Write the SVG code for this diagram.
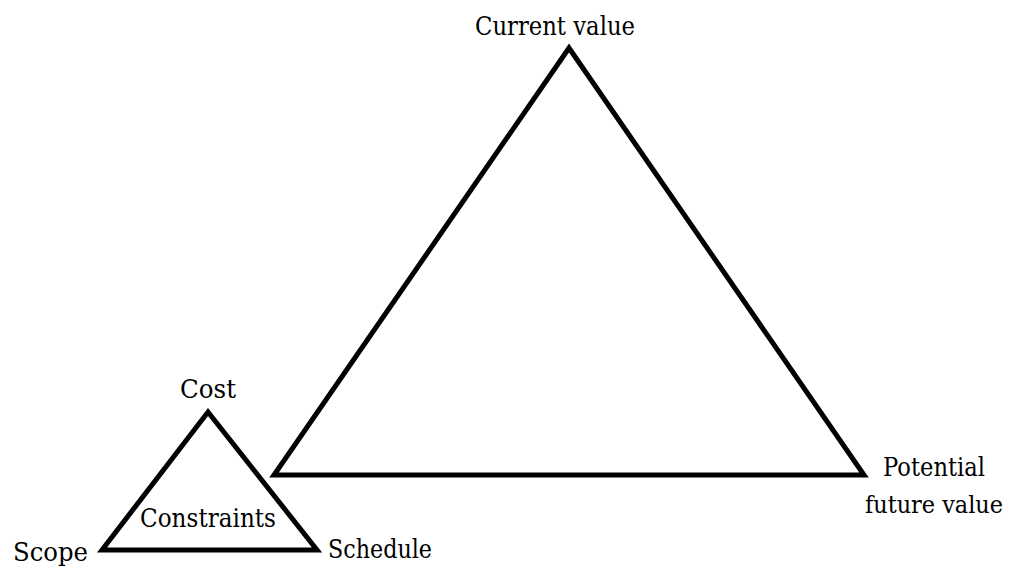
<svg xmlns="http://www.w3.org/2000/svg" width="1010" height="568" viewBox="0 0 1010 568">
<style>
.tri{fill:none;stroke:#000;stroke-width:5;stroke-linejoin:miter}
.mid{text-anchor:middle}
</style>
<rect width="1010" height="568" fill="#fff"/>
<g id="value-triangle">
<polygon class="tri" points="569,48 864,475 274,475"/>
</g>
<g id="constraints-triangle">
<polygon class="tri" points="208,412 317,550 102,550"/>
</g>
<g id="connectors"></g>
<g font-family="'DejaVu Serif', serif" font-size="26" fill="#000">
<g id="current-value"><text class="mid" x="555" y="35" textLength="160" lengthAdjust="spacingAndGlyphs">Current value</text></g>
<g id="potential-future-value">
<text class="mid" x="934" y="476" textLength="102" lengthAdjust="spacingAndGlyphs">Potential</text>
<text class="mid" x="934" y="513" font-size="24" textLength="138" lengthAdjust="spacingAndGlyphs">future value</text>
</g>
<g id="cost"><text class="mid" x="208" y="398" textLength="56" lengthAdjust="spacingAndGlyphs">Cost</text></g>
<g id="constraints"><text class="mid" x="208" y="527" textLength="136" lengthAdjust="spacingAndGlyphs">Constraints</text></g>
<g id="scope"><text x="13" y="561" textLength="75" lengthAdjust="spacingAndGlyphs">Scope</text></g>
<g id="schedule"><text x="328" y="558" textLength="104" lengthAdjust="spacingAndGlyphs">Schedule</text></g>
</g>
</svg>
